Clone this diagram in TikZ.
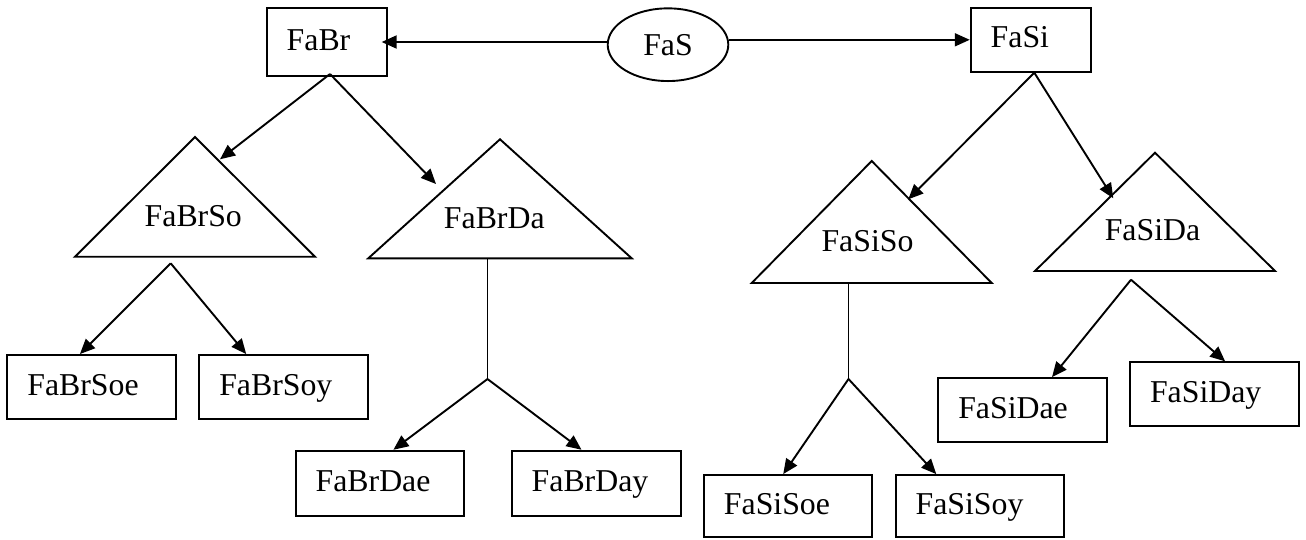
\documentclass[tikz,border=0pt]{standalone}
\usepackage{fontspec}
\setmainfont{Liberation Serif}
\usetikzlibrary{arrows.meta,shapes.geometric,calc}
\begin{document}
\begin{tikzpicture}[x=1pt,y=-1pt,
  line width=1.9pt,
  every node/.style={font=\fontsize{31.8pt}{38pt}\selectfont},
  arr/.style={-{Triangle[length=15pt,width=13pt]}},
  box/.style={draw, rectangle, inner xsep=20pt, inner ysep=0pt, align=left,
    text height=22pt, text depth=6pt, text width=129pt, minimum height=64pt},
  tri/.style={draw, line join=miter},
  lbl/.style={anchor=base, inner sep=0pt},
]
\useasboundingbox (0,0) rectangle (1306,539);

% root and its two children
\node[draw, ellipse, minimum width=120.6pt, minimum height=72.7pt, inner sep=0pt,
      text height=21pt, text depth=0pt] (FaS) at (668,44.7) {FaS};
\node[box, text width=80pt, minimum height=68pt] (FaBr) at (326.7,42) {FaBr};
\node[box, text width=80pt, minimum height=63.7pt] (FaSi) at (1030.7,39.8) {FaSi};

% triangles
\draw[tri] (195,137) -- (315,256.7) -- (75,256.7) -- cycle;
\draw[tri] (500,139.3) -- (631.7,258.3) -- (368.3,258.3) -- cycle;
\draw[tri] (871.7,161) -- (991.7,283) -- (751.7,283) -- cycle;
\draw[tri] (1155,152.7) -- (1275,271) -- (1035,271) -- cycle;
\node[lbl] (FaBrSo) at (193.3,226.7) {FaBrSo};
\node[lbl] (FaBrDa) at (494.3,228.3) {FaBrDa};
\node[lbl] (FaSiSo) at (867.5,251) {FaSiSo};
\node[lbl] (FaSiDa) at (1152.5,240) {FaSiDa};

% leaf boxes
\node[box, text width=128.7pt] (FaBrSoe) at (91.7,387) {FaBrSoe};
\node[box] (FaBrSoy) at (283.8,387) {FaBrSoy};
\node[box, text width=128.3pt, minimum height=65pt] (FaBrDae) at (379.8,483.2) {FaBrDae};
\node[box, minimum height=65pt] (FaBrDay) at (596.2,483.2) {FaBrDay};
\node[box, text width=127.7pt, minimum height=62.3pt] (FaSiSoe) at (787.8,506.2) {FaSiSoe};
\node[box, text width=128.3pt, minimum height=62.3pt] (FaSiSoy) at (979.8,506.2) {FaSiSoy};
\node[box, minimum height=64.3pt] (FaSiDae) at (1022.8,410.2) {FaSiDae};
\node[box, text width=129.3pt] (FaSiDay) at (1214.7,394.3) {FaSiDay};

% connector end points
\coordinate (brOut) at (330,74);
\coordinate (brSoHit) at (220,159.3);
\coordinate (brDaHit) at (436,184);
\coordinate (siOut) at (1034.3,72.7);
\coordinate (siSoHit) at (908.3,199.3);
\coordinate (siDaHit) at (1113.3,198.3);
\coordinate (brSoFork) at (170.7,263.3);
\coordinate (brDaBase) at (487.5,258.3);
\coordinate (brDaFork) at (487.5,379);
\coordinate (siSoBase) at (848.5,283);
\coordinate (siSoFork) at (848.5,379);
\coordinate (siDaFork) at (1131,279.7);

% connectors
\draw[arr, shorten >=-6pt] (FaBr.east -| FaS.west) -- (FaBr.east);
\draw[arr] (FaS.east |- FaSi.west) -- (FaSi.west);
\draw[arr] (brOut) -- (brSoHit);
\draw[arr] (brOut) -- (brDaHit);
\draw[arr] (siOut) -- (siSoHit);
\draw[arr] (siOut) -- (siDaHit);

\draw[arr] (brSoFork) -- ($(FaBrSoe.north west)!0.431!(FaBrSoe.north east)$);
\draw[arr] (brSoFork) -- ($(FaBrSoy.north west)!0.28!(FaBrSoy.north east)$);

\draw (brDaBase) -- (brDaFork);
\draw[arr] (brDaFork) -- ($(FaBrDae.north west)!0.58!(FaBrDae.north east)$);
\draw[arr] (brDaFork) -- ($(FaBrDay.north west)!0.414!(FaBrDay.north east)$);

\draw (siSoBase) -- (siSoFork);
\draw[arr] (siSoFork) -- ($(FaSiSoe.north west)!0.473!(FaSiSoe.north east)$);
\draw[arr] (siSoFork) -- ($(FaSiSoy.north west)!0.244!(FaSiSoy.north east)$);

\draw[arr] (siDaFork) -- ($(FaSiDae.north west)!0.671!(FaSiDae.north east)$);
\draw[arr] (siDaFork) -- ($(FaSiDay.north west)!0.561!(FaSiDay.north east)$);
\end{tikzpicture}
\end{document}
